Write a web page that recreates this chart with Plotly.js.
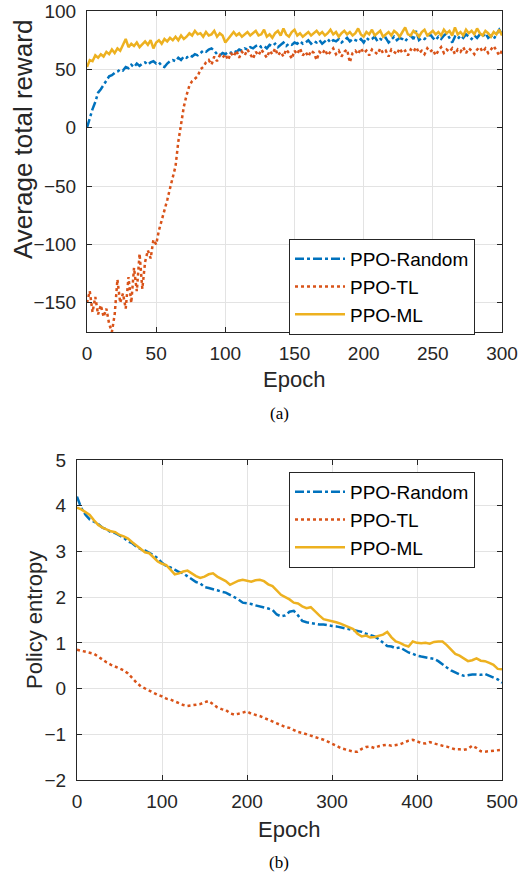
<!DOCTYPE html>
<html>
<head>
<meta charset="utf-8">
<script src="https://cdn.plot.ly/plotly-3.0.1.min.js"></script>
<style>html,body{margin:0;padding:0;background:#fff;}#chart{width:518px;height:877px;}</style>
</head>
<body>
<div id="chart"></div>
<script>
// ---------- (a) Average total reward, sampled every 2 epochs ----------
const epochStepA = 2;
const rewardRandom = [0,9,16,22,30,33,37,40,44,45,47,48,50,49,52,51,54,52,55,53,55,56,54,56,57,55,56,53,52,55,57,58,57,60,58,61,60,62,61,63,62,64,66,65,67,68,66,63,62,64,63,65,64,66,65,67,66,68,67,69,68,70,71,69,70,68,71,70,72,69,71,73,70,72,71,73,72,74,72,73,75,72,74,73,75,72,74,76,73,75,74,76,73,75,77,74,76,75,74,76,73,77,75,76,78,74,76,75,77,73,76,78,75,77,76,74,77,79,76,83,75,77,76,78,80,77,75,78,76,79,81,77,73,78,76,79,77,80,78,76,79,77,80,78,81,77,79,76,80,84,80];
const rewardTL = [-150,-140,-158,-145,-160,-152,-162,-155,-168,-175,-160,-130,-150,-142,-155,-128,-150,-120,-140,-108,-138,-115,-105,-112,-96,-100,-88,-80,-72,-62,-52,-42,-33,-12,4,18,28,36,40,42,44,50,52,56,58,54,61,57,62,60,63,58,64,61,66,60,65,62,67,63,59,65,62,67,64,60,66,63,68,62,65,61,67,64,59,66,63,68,62,65,61,66,64,58,65,63,67,62,65,68,63,66,61,65,67,56,64,66,63,68,64,66,62,67,65,63,68,64,66,61,67,65,63,68,64,66,62,67,65,69,64,66,63,68,65,67,62,66,69,64,67,65,68,63,67,65,69,64,68,66,63,67,69,65,68,64,67,70,66,62,66];
const rewardML = [52,58,57,62,60,63,61,65,63,67,64,68,66,71,76,69,72,70,73,69,72,74,71,75,68,73,75,72,76,74,77,75,78,75,79,76,78,81,79,83,80,81,78,82,79,80,83,78,81,79,73,76,80,82,79,81,78,80,82,79,81,83,79,80,84,78,80,77,81,83,79,85,80,78,82,84,79,81,78,80,82,79,81,83,80,82,79,81,84,80,82,78,81,83,80,82,79,81,85,80,78,82,80,84,79,81,83,78,80,82,79,83,81,78,82,86,80,79,83,81,78,82,84,79,81,83,80,82,79,84,81,83,79,86,80,82,79,84,81,83,80,85,81,79,83,81,78,82,80,84,79];

// ---------- (b) Policy entropy, sampled every 5 epochs ----------
const epochStepB = 5;
const entropyRandom = [4.2,3.95,3.8,3.7,3.65,3.6,3.52,3.48,3.42,3.4,3.35,3.3,3.22,3.18,3.1,3.05,3.02,2.97,2.92,2.85,2.75,2.68,2.65,2.6,2.55,2.52,2.45,2.4,2.33,2.3,2.22,2.2,2.18,2.15,2.12,2.1,2.05,2.0,1.95,1.88,1.87,1.85,1.82,1.8,1.78,1.75,1.72,1.62,1.58,1.6,1.68,1.7,1.6,1.48,1.45,1.43,1.42,1.4,1.4,1.38,1.37,1.36,1.34,1.32,1.3,1.28,1.26,1.24,1.2,1.17,1.14,1.08,1.0,0.93,0.92,0.88,0.9,0.84,0.79,0.76,0.72,0.7,0.68,0.67,0.65,0.6,0.52,0.46,0.4,0.35,0.31,0.28,0.3,0.31,0.31,0.3,0.32,0.28,0.24,0.2,0.13];
const entropyTL = [0.85,0.83,0.8,0.79,0.76,0.7,0.63,0.57,0.52,0.48,0.45,0.4,0.33,0.22,0.13,0.05,0.0,-0.05,-0.1,-0.14,-0.17,-0.22,-0.24,-0.28,-0.33,-0.36,-0.38,-0.37,-0.35,-0.34,-0.3,-0.27,-0.34,-0.41,-0.45,-0.47,-0.54,-0.57,-0.55,-0.52,-0.5,-0.55,-0.57,-0.6,-0.64,-0.68,-0.72,-0.76,-0.8,-0.84,-0.86,-0.9,-0.95,-0.97,-1.0,-1.03,-1.05,-1.08,-1.12,-1.16,-1.2,-1.25,-1.3,-1.33,-1.35,-1.38,-1.38,-1.32,-1.28,-1.27,-1.3,-1.26,-1.24,-1.23,-1.25,-1.24,-1.22,-1.18,-1.14,-1.12,-1.15,-1.19,-1.2,-1.17,-1.2,-1.23,-1.25,-1.27,-1.3,-1.33,-1.33,-1.34,-1.32,-1.25,-1.3,-1.37,-1.38,-1.37,-1.36,-1.35,-1.34];
const entropyML = [3.96,3.92,3.86,3.8,3.68,3.58,3.52,3.48,3.44,3.42,3.36,3.33,3.28,3.2,3.12,3.05,2.98,2.96,2.88,2.78,2.73,2.7,2.6,2.5,2.52,2.56,2.58,2.52,2.46,2.42,2.45,2.5,2.52,2.45,2.4,2.35,2.27,2.32,2.36,2.38,2.36,2.34,2.37,2.38,2.35,2.28,2.24,2.15,2.05,2.0,1.95,1.88,1.86,1.8,1.76,1.78,1.68,1.6,1.52,1.5,1.47,1.45,1.42,1.38,1.34,1.3,1.2,1.14,1.16,1.12,1.13,1.16,1.18,1.24,1.12,1.03,1.0,0.95,0.92,1.03,1.0,0.99,1.0,0.98,1.02,1.03,1.03,0.95,0.85,0.76,0.72,0.66,0.6,0.62,0.66,0.61,0.6,0.56,0.52,0.43,0.42];

const seriesNames = ['PPO-Random', 'PPO-TL', 'PPO-ML'];
const xTicksA = [0, 50, 100, 150, 200, 250, 300];
const yTicksA = [-150, -100, -50, 0, 50, 100];
const xTicksB = [0, 100, 200, 300, 400, 500];
const yTicksB = [-2, -1, 0, 1, 2, 3, 4, 5];

const epochsA = rewardRandom.map((_, i) => i * epochStepA);
const epochsB = entropyRandom.map((_, i) => i * epochStepB);

const colors = ['#0072BD', '#D95319', '#EDB120'];
const dashes = ['dashdot', 'dot', 'solid'];
const W = 518, H = 877;
const FONT = 'Liberation Sans, Arial, Helvetica, sans-serif';
const AX = '#262626';

function tr(x, y, k, xa, ya, leg) {
  return {x: x, y: y, name: seriesNames[k], type: 'scatter', mode: 'lines',
    xaxis: xa, yaxis: ya, legend: leg,
    line: {color: colors[k], dash: dashes[k], width: 2.5}};
}
const traces = [
  tr(epochsA, rewardRandom, 0, 'x', 'y', 'legend'),
  tr(epochsA, rewardTL, 1, 'x', 'y', 'legend'),
  tr(epochsA, rewardML, 2, 'x', 'y', 'legend'),
  tr(epochsB, entropyRandom, 0, 'x2', 'y2', 'legend2'),
  tr(epochsB, entropyTL, 1, 'x2', 'y2', 'legend2'),
  tr(epochsB, entropyML, 2, 'x2', 'y2', 'legend2')
];

function px(v) { return v / W; }
function py(v) { return 1 - v / H; }

function axis(extra) {
  return Object.assign({
    showline: true, linecolor: AX, linewidth: 1, mirror: 'ticks',
    ticks: 'inside', ticklen: 5, tickcolor: AX, tickwidth: 1,
    showgrid: true, gridcolor: '#e3e3e3', gridwidth: 1, zeroline: false,
    tickfont: {family: FONT, size: 19, color: AX}, fixedrange: true
  }, extra);
}

const legendCommon = {
  bgcolor: '#ffffff', bordercolor: AX, borderwidth: 1,
  font: {family: FONT, size: 19, color: '#000'},
  xanchor: 'left', yanchor: 'top', tracegroupgap: 0, itemwidth: 50
};

const layout = {
  width: W, height: H,
  margin: {l: 0, r: 0, t: 0, b: 0},
  paper_bgcolor: '#fff', plot_bgcolor: '#fff',
  showlegend: true,
  xaxis: axis({domain: [px(87), px(502)], range: [0, 300], tickvals: xTicksA, anchor: 'y', ticklabelstandoff: 4}),
  yaxis: axis({domain: [py(332), py(11)], range: [-175, 100], tickvals: yTicksA, anchor: 'x', ticklabelstandoff: 6}),
  xaxis2: axis({domain: [px(77), px(502)], range: [0, 500], tickvals: xTicksB, anchor: 'y2', ticklabelstandoff: 4}),
  yaxis2: axis({domain: [py(780), py(460)], range: [-2, 5], tickvals: yTicksB, anchor: 'x2', ticklabelstandoff: 6}),
  legend: Object.assign({x: px(289), y: py(239)}, legendCommon),
  legend2: Object.assign({x: px(289), y: py(472)}, legendCommon),
  annotations: [
    {text: 'Average total reward', xref: 'paper', yref: 'paper', x: px(23), y: py(140), textangle: -90,
     showarrow: false, xanchor: 'center', yanchor: 'middle', font: {family: FONT, size: 26, color: AX}},
    {text: 'Epoch', xref: 'paper', yref: 'paper', x: px(294), y: py(379),
     showarrow: false, xanchor: 'center', yanchor: 'middle', font: {family: FONT, size: 22, color: AX}},
    {text: '(a)', xref: 'paper', yref: 'paper', x: px(279), y: py(413),
     showarrow: false, xanchor: 'center', yanchor: 'middle', font: {family: 'Liberation Serif, Times New Roman, serif', size: 17, color: '#000'}},
    {text: 'Policy entropy', xref: 'paper', yref: 'paper', x: px(34), y: py(620), textangle: -90,
     showarrow: false, xanchor: 'center', yanchor: 'middle', font: {family: FONT, size: 22, color: AX}},
    {text: 'Epoch', xref: 'paper', yref: 'paper', x: px(289), y: py(829),
     showarrow: false, xanchor: 'center', yanchor: 'middle', font: {family: FONT, size: 22, color: AX}},
    {text: '(b)', xref: 'paper', yref: 'paper', x: px(279), y: py(862),
     showarrow: false, xanchor: 'center', yanchor: 'middle', font: {family: 'Liberation Serif, Times New Roman, serif', size: 17, color: '#000'}}
  ]
};

Plotly.newPlot('chart', traces, layout, {displayModeBar: false, staticPlot: true});
</script>
</body>
</html>
